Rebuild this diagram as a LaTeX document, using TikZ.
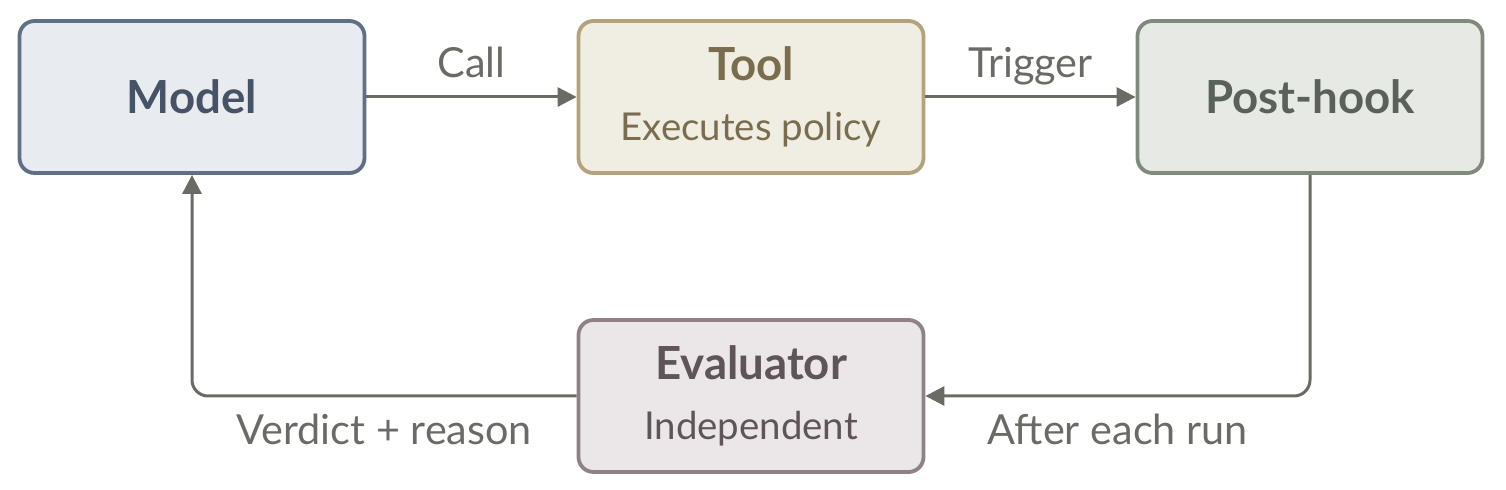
\documentclass[tikz,border=0pt]{standalone}
\usepackage{fontspec}
\setmainfont{Lato}
\usetikzlibrary{arrows.meta}

\definecolor{modelfill}{HTML}{E8EBF0}
\definecolor{modeldraw}{HTML}{5F6F86}
\definecolor{modeltext}{HTML}{465265}
\definecolor{toolfill}{HTML}{F0EEE2}
\definecolor{tooldraw}{HTML}{B3A27C}
\definecolor{tooltext}{HTML}{7A6C4E}
\definecolor{hookfill}{HTML}{E7E9E4}
\definecolor{hookdraw}{HTML}{7F8A7D}
\definecolor{hooktext}{HTML}{5A6158}
\definecolor{evalfill}{HTML}{EBE6E7}
\definecolor{evaldraw}{HTML}{8E8285}
\definecolor{evaltext}{HTML}{5F5558}
\definecolor{linkgray}{HTML}{6B6B66}

\tikzset{
    box/.style={draw, rounded corners=7.5pt, line width=1.9pt,
        minimum width=172.5pt, minimum height=76pt, align=center,
        font=\fontsize{19.2}{23}\selectfont},
    flow/.style={draw=linkgray, line width=1.5pt, rounded corners=8pt,
        -{Triangle[length=9.5pt,width=9.5pt]}},
    lbl/.style={text=linkgray, font=\fontsize{20.7}{25}\selectfont, anchor=base},
}

\begin{document}
\begin{tikzpicture}[x=0.5pt,y=-0.5pt]
    \useasboundingbox (0,0) rectangle (1506,490);

    % the four stages
    \node [box, fill=modelfill, draw=modeldraw, text=modeltext] (model) at (192, 97)
        {\fontsize{22.8}{27}\selectfont\bfseries Model};
    \node [box, fill=toolfill, draw=tooldraw, text=tooltext] (tool) at (751, 97)
        {{\fontsize{22.8}{27}\selectfont\bfseries Tool}\\[7pt]Executes policy};
    \node [box, fill=hookfill, draw=hookdraw, text=hooktext] (hook) at (1310, 97)
        {\fontsize{22.8}{27}\selectfont\bfseries Post-hook};
    \node [box, fill=evalfill, draw=evaldraw, text=evaltext] (eval) at (751, 396)
        {{\fontsize{22.8}{27}\selectfont\bfseries Evaluator}\\[7pt]Independent};

    % links
    \draw [flow] (model) -- node [lbl, yshift=9.5pt] {Call} (tool);
    \draw [flow] (tool) -- node [lbl, yshift=9.5pt] {Trigger} (hook);
    \draw [flow] (hook.south) |- node [lbl, pos=0.75, yshift=-24.5pt] {After each run} (eval.east);
    \draw [flow] (eval.west) -| node [lbl, pos=0.25, yshift=-24.5pt] {Verdict + reason} (model.south);
\end{tikzpicture}
\end{document}
